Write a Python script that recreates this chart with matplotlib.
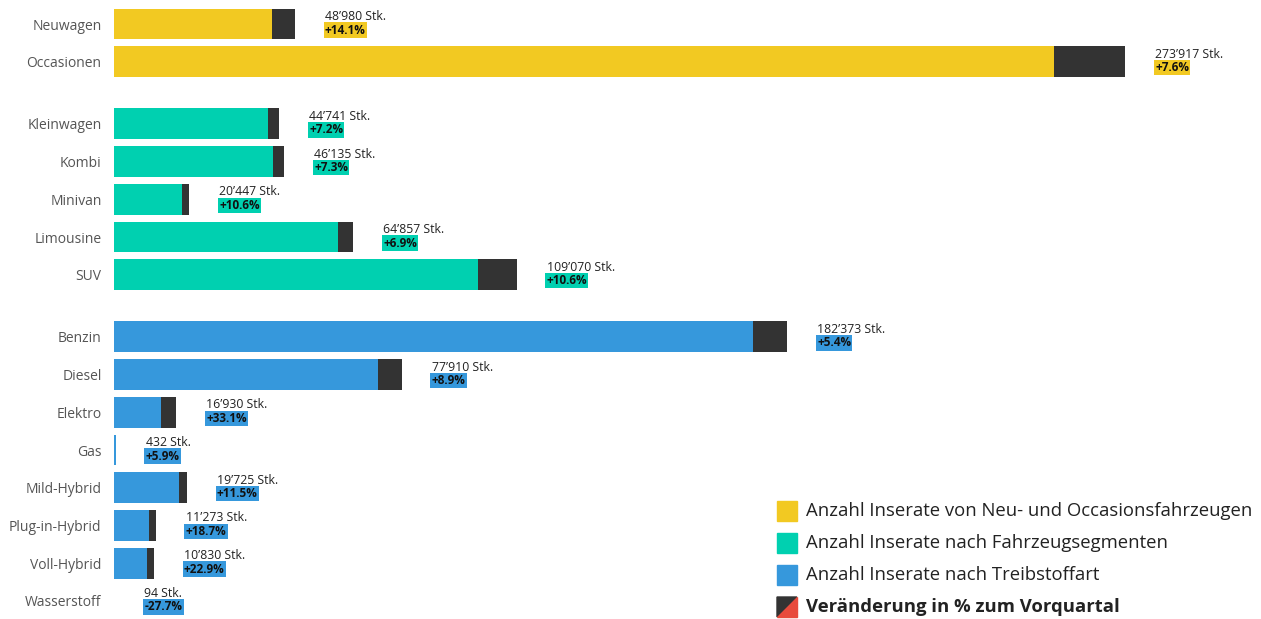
import matplotlib.pyplot as plt
from matplotlib.patches import Rectangle, Polygon

plt.rcParams['font.family'] = ['Open Sans', 'DejaVu Sans']

kategorien = ["Neuwagen", "Occasionen",
              "Kleinwagen", "Kombi", "Minivan", "Limousine", "SUV",
              "Benzin", "Diesel", "Elektro", "Gas", "Mild-Hybrid",
              "Plug-in-Hybrid", "Voll-Hybrid", "Wasserstoff"]
anzahl = [48980, 273917,
          44741, 46135, 20447, 64857, 109070,
          182373, 77910, 16930, 432, 19725, 11273, 10830, 94]
veraenderung = [14.1, 7.6,
                7.2, 7.3, 10.6, 6.9, 10.6,
                5.4, 8.9, 33.1, 5.9, 11.5, 18.7, 22.9, -27.7]
gruppe = [0, 0, 1, 1, 1, 1, 1, 2, 2, 2, 2, 2, 2, 2, 2]

farben = ["#F2C922", "#00D0B0", "#3698DC"]
dunkel = "#333333"
rot = "#E84B3C"
legende = ["Anzahl Inserate von Neu- und Occasionsfahrzeugen",
           "Anzahl Inserate nach Fahrzeugsegmenten",
           "Anzahl Inserate nach Treibstoffart",
           "Veränderung in % zum Vorquartal"]

W, H = 1261, 619
fig = plt.figure(figsize=(W / 100, H / 100), dpi=100)
px_x = 0.003691          # pixels per unit
px_y = 37.7              # pixels per row
ax = fig.add_axes([114 / W, 0, 1 - 114 / W, 1])
ax.set_xlim(0, (W - 114) / px_x)
ax.set_ylim((H - 24) / px_y, -24 / px_y)

# y positions with gaps between groups
ypos = []
y = 0
for i, g in enumerate(gruppe):
    if i > 0 and g != gruppe[i - 1]:
        y += 0.65
    ypos.append(y)
    y += 1

def fmt(n):
    return "{:,}".format(n).replace(",", "’") + " Stk."

off = 30 / px_x
for yy, n, p, g in zip(ypos, anzahl, veraenderung, gruppe):
    vorher = n / (1 + p / 100)
    if p >= 0:
        ax.barh(yy, vorher, height=0.82, color=farben[g], lw=0)
        ax.barh(yy, n - vorher, left=vorher, height=0.82, color=dunkel, lw=0)
    else:
        ax.barh(yy, n, height=0.82, color=farben[g], lw=0)
        ax.barh(yy, vorher - n, left=n, height=0.82, color=rot, lw=0)
    ende = max(n, vorher)
    ax.text(ende + off, yy - 0.2, fmt(n), fontsize=8.8, color="#222222",
            va="center", ha="left")
    ax.text(ende + off, yy + 0.16, "{:+.1f}%".format(p),
            fontsize=8.5, fontweight="bold", color="#111111",
            va="center", ha="left",
            bbox=dict(boxstyle="square,pad=0.1", fc=farben[g], ec="none"))

ax.set_yticks(ypos)
ax.set_yticklabels(kategorien, fontsize=10, color="#555555")
ax.tick_params(axis="y", length=0, pad=9)
ax.set_xticks([])
for s in ax.spines.values():
    s.set_visible(False)

# legend drawn manually
for i, txt in enumerate(legende):
    yc = 511 + i * 32
    x0, x1 = 777, 797
    y0, y1 = yc - 10, yc + 10
    if i < 3:
        fig.patches.append(Rectangle((x0 / W, 1 - y1 / H), 20 / W, 20 / H,
                                     transform=fig.transFigure, color=farben[i]))
    else:
        fig.patches.append(Polygon([(x0 / W, 1 - y0 / H), (x1 / W, 1 - y0 / H),
                                    (x0 / W, 1 - y1 / H)],
                                   transform=fig.transFigure, color=dunkel))
        fig.patches.append(Polygon([(x1 / W, 1 - y0 / H), (x1 / W, 1 - y1 / H),
                                    (x0 / W, 1 - y1 / H)],
                                   transform=fig.transFigure, color=rot))
    fig.text(806 / W, 1 - yc / H, txt, fontsize=13.3, color="#222222",
             va="center", ha="left", fontweight="bold" if i == 3 else "normal")

fig.savefig("out.png", dpi=100)
